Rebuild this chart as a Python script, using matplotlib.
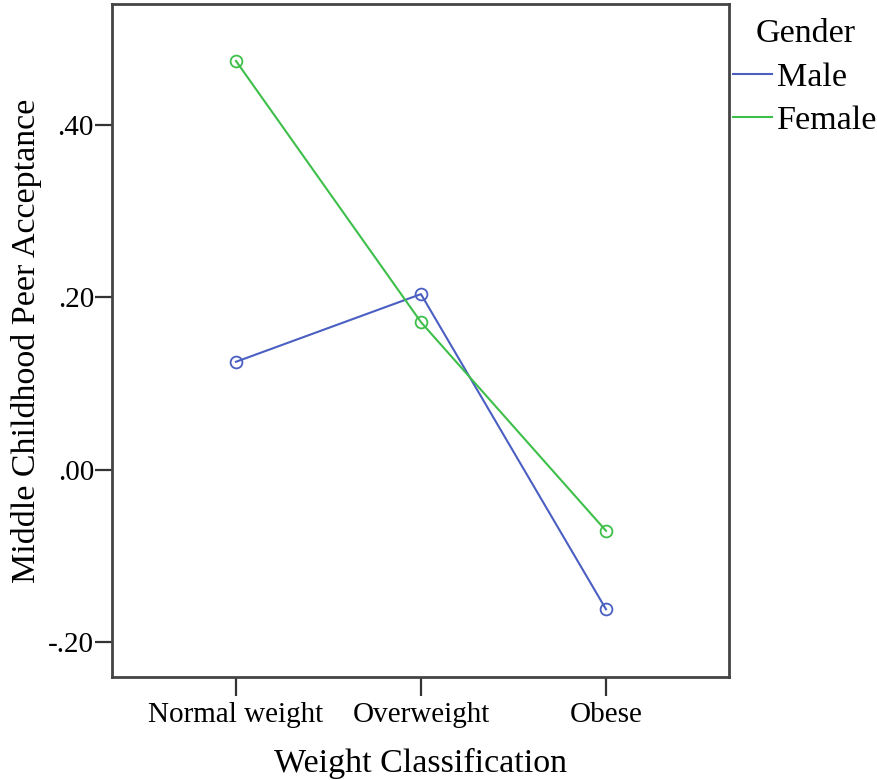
import matplotlib.pyplot as plt
from matplotlib.lines import Line2D

# Estimated marginal means
categories = ["Normal weight", "Overweight", "Obese"]
male = [0.125, 0.2035, -0.162]
female = [0.474, 0.171, -0.071]
y_ticks = [-0.20, 0.00, 0.20, 0.40]
y_tick_labels = ["-.20", ".00", ".20", ".40"]

male_color = "#4a5fc1"
female_color = "#3dbf49"

plt.rcParams["font.family"] = ["Liberation Serif", "DejaVu Serif"]

fig = plt.figure(figsize=(8.77, 7.8), dpi=100)
ax = fig.add_axes([112 / 877, 1 - 677 / 780, (729 - 112) / 877, (677 - 4) / 780])

x = range(len(categories))
ax.plot(x, male, color=male_color, lw=1.5, marker="o", ms=8.5,
        mfc="none", mew=1.3)
ax.plot(x, female, color=female_color, lw=1.5, marker="o", ms=8.5,
        mfc="none", mew=1.3)

ax.set_xlim(-0.67, 2.665)
ax.set_ylim(-0.2406, 0.540)
ax.set_xticks(list(x))
ax.set_xticklabels(categories)
ax.set_yticks(y_ticks)
ax.set_yticklabels(y_tick_labels)

for s in ax.spines.values():
    s.set_linewidth(2.0)
    s.set_color("#444444")
ax.tick_params(axis="y", length=12, width=1.6, color="#333333",
               labelsize=21, pad=1)
ax.tick_params(axis="x", length=14, width=1.6, color="#333333",
               labelsize=21, pad=4)

ax.set_xlabel("Weight Classification", fontsize=24.5, labelpad=14)
ax.set_ylabel("Middle Childhood Peer Acceptance", fontsize=24.5)
ax.yaxis.set_label_coords(-0.113, 0.5)

# legend shows lines only, no markers
handles = [Line2D([], [], color=male_color, lw=1.5),
           Line2D([], [], color=female_color, lw=1.5)]
ax.legend(handles, ["Male", "Female"], title="Gender", loc="upper left",
          bbox_to_anchor=(733 / 877, 1 - 19 / 780),
          bbox_transform=fig.transFigure, frameon=False,
          fontsize=24.5, title_fontsize=24.5, handlelength=1.15,
          handletextpad=0.15, borderpad=0, borderaxespad=0,
          labelspacing=0.37)

fig.savefig("out.png", dpi=100)
